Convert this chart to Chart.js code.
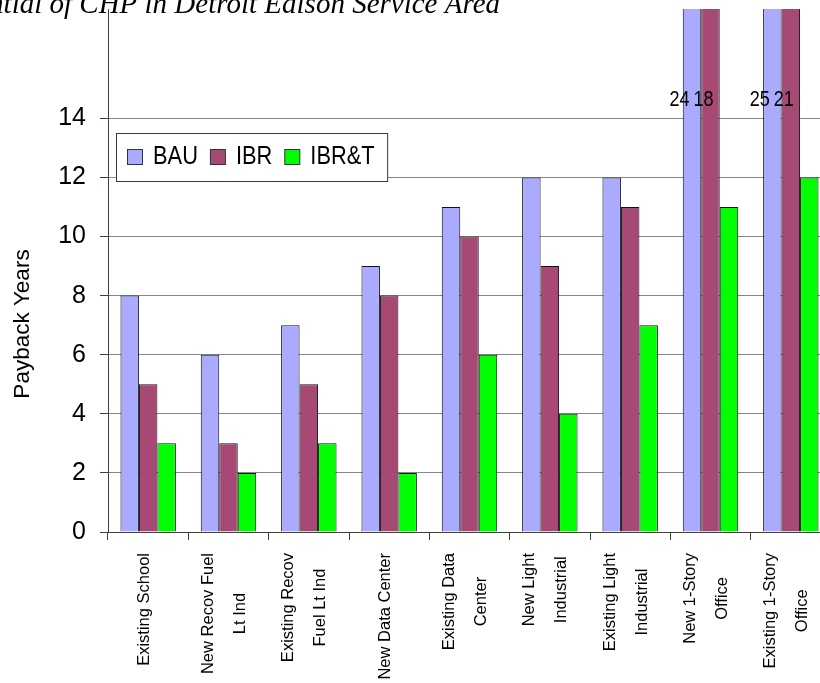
<!DOCTYPE html>
<html>
<head>
<meta charset="utf-8">
<script src="https://cdn.jsdelivr.net/npm/chart.js@4/dist/chart.umd.min.js"></script>
<style>
  html, body { margin: 0; padding: 0; background: #fff; overflow: hidden; width: 820px; height: 683px; }
  #wrap { position: relative; width: 840px; height: 683px; }
</style>
</head>
<body>
<div id="wrap"><canvas id="c" width="840" height="683"></canvas></div>
<script>
// Building types (multi-line category labels)
const categories = [
  ['Existing School'],
  ['New Recov Fuel', 'Lt Ind'],
  ['Existing Recov', 'Fuel Lt Ind'],
  ['New Data Center'],
  ['Existing Data', 'Center'],
  ['New Light', 'Industrial'],
  ['Existing Light', 'Industrial'],
  ['New 1-Story', 'Office'],
  ['Existing 1-Story', 'Office']
];
// Payback years per scenario
const bau  = [8, 6, 7, 9, 11, 12, 12, 24, 25];
const ibr  = [5, 3, 5, 8, 10, 9, 11, 18, 21];
const ibrt = [3, 2, 3, 2, 6, 4, 7, 11, 12];
const seriesNames = ['BAU', 'IBR', 'IBR&T'];
const seriesColors = ['#AAAAFF', '#A64A75', '#00FF00'];
const yTicks = [0, 2, 4, 6, 8, 10, 12, 14];
const titleText = 'Potential of CHP in Detroit Edison Service Area';
const axisTitle = 'Payback Years';

const AXIS_COLOR = '#3a423a';
const SANS = '"Liberation Sans", Arial, sans-serif';
// horizontal nudge of the value labels, per series
const labelShift = [-12.5, -7];

// Text drawn with a horizontal squeeze
function squeezedText(ctx, text, x, y, sx, align) {
  const w = ctx.measureText(text).width * sx;
  let x0 = x;
  if (align === 'right') x0 = x - w;
  else if (align === 'center') x0 = x - w / 2;
  ctx.save();
  ctx.translate(x0, y);
  ctx.scale(sx, 1);
  ctx.textAlign = 'left';
  ctx.fillText(text, 0, 0);
  ctx.restore();
  return w;
}

const decorations = {
  id: 'decorations',
  afterDatasetsDraw(chart) {
    const ctx = chart.ctx;
    const y = chart.scales.y;
    const topTick = yTicks[yTicks.length - 1];
    // value labels for bars running past the top tick
    ctx.save();
    ctx.fillStyle = '#000';
    ctx.font = '22px ' + SANS;
    ctx.textBaseline = 'alphabetic';
    chart.data.datasets.forEach((ds, di) => {
      const meta = chart.getDatasetMeta(di);
      ds.data.forEach((v, i) => {
        if (v > topTick) {
          const bar = meta.data[i];
          squeezedText(ctx, String(v), bar.x + (labelShift[di] || 0), y.getPixelForValue(topTick) - 12, 0.82, 'center');
        }
      });
    });
    ctx.restore();
  },
  afterDraw(chart) {
    const ctx = chart.ctx;
    const x = chart.scales.x;
    const area = chart.chartArea;
    ctx.save();
    ctx.fillStyle = '#000';

    // chart title
    ctx.font = 'italic 29px "Liberation Serif", "Times New Roman", serif';
    ctx.textAlign = 'right';
    ctx.textBaseline = 'alphabetic';
    ctx.fillText(titleText, 500, 13);

    // y axis title
    ctx.save();
    ctx.translate(23, 324);
    ctx.rotate(-Math.PI / 2);
    ctx.font = '22.5px ' + SANS;
    ctx.textAlign = 'center';
    ctx.textBaseline = 'middle';
    ctx.fillText(axisTitle, 0, 0);
    ctx.restore();

    // category labels, rotated, lines centred on each other
    ctx.font = '16.5px ' + SANS;
    ctx.textAlign = 'center';
    ctx.textBaseline = 'middle';
    categories.forEach((lines, i) => {
      const cx = x.getPixelForValue(i) - 4;
      const maxLen = Math.max(...lines.map(l => ctx.measureText(l).width));
      const cy = area.bottom + 21 + maxLen / 2;
      lines.forEach((l, k) => {
        const lx = cx + (k - (lines.length - 1) / 2) * 32;
        ctx.save();
        ctx.translate(lx, cy);
        ctx.rotate(-Math.PI / 2);
        ctx.fillText(l, 0, 0);
        ctx.restore();
      });
    });

    // legend
    const boxL = 116.5, boxT = 133.5, boxH = 48;
    ctx.font = '26px ' + SANS;
    ctx.textBaseline = 'alphabetic';
    let cur = 127;
    const items = [];
    seriesNames.forEach((name, i) => {
      const w = ctx.measureText(name).width * 0.84;
      items.push({ name, mx: cur, tx: cur + 26, w, color: seriesColors[i] });
      cur = cur + 26 + w + 12;
    });
    const boxR = items[items.length - 1].tx + items[items.length - 1].w + 13;
    ctx.fillStyle = '#fff';
    ctx.fillRect(boxL, boxT, boxR - boxL, boxH);
    ctx.strokeStyle = '#3a3a3a';
    ctx.lineWidth = 1;
    ctx.strokeRect(boxL, boxT, boxR - boxL, boxH);
    items.forEach(it => {
      ctx.fillStyle = it.color;
      ctx.fillRect(it.mx + 0.5, 149.5, 15, 15);
      ctx.strokeStyle = '#333';
      ctx.strokeRect(it.mx + 0.5, 149.5, 15, 15);
      ctx.fillStyle = '#000';
      squeezedText(ctx, it.name, it.tx, 164, 0.84, 'left');
    });
    ctx.restore();
  }
};

new Chart(document.getElementById('c'), {
  type: 'bar',
  data: {
    labels: categories.map(l => l.join(' ')),
    datasets: [bau, ibr, ibrt].map((d, i) => ({
      label: seriesNames[i],
      data: d,
      backgroundColor: seriesColors[i],
      borderColor: '#111',
      borderWidth: 1,
      categoryPercentage: 0.69,
      barPercentage: 1.0
    }))
  },
  options: {
    responsive: false,
    animation: false,
    devicePixelRatio: 1,
    layout: { padding: { top: 9, right: 9, left: 0, bottom: 0 } },
    plugins: { legend: { display: false }, tooltip: { enabled: false }, title: { display: false } },
    scales: {
      x: {
        grid: { display: true, drawOnChartArea: false, offset: true, tickLength: 8, tickColor: AXIS_COLOR },
        border: { display: true, color: AXIS_COLOR, width: 1 },
        ticks: { display: false },
        afterFit(s) { s.height = 151; s.paddingLeft = 0; s.paddingRight = 0; }
      },
      y: {
        min: 0,
        max: 17.7,
        afterBuildTicks(s) { s.ticks = yTicks.map(v => ({ value: v })); },
        ticks: { font: { family: SANS, size: 25 }, color: '#000', padding: 14, autoSkip: false },
        grid: {
          color: c => (c.tick && c.tick.value === 0) ? 'rgba(0,0,0,0)' : '#868686',
          tickColor: AXIS_COLOR,
          tickLength: 8,
          lineWidth: 1
        },
        border: { display: true, color: AXIS_COLOR, width: 1 },
        afterFit(s) { s.width = 108; s.paddingTop = 0; s.paddingBottom = 0; }
      }
    }
  },
  plugins: [decorations]
});
</script>
</body>
</html>
